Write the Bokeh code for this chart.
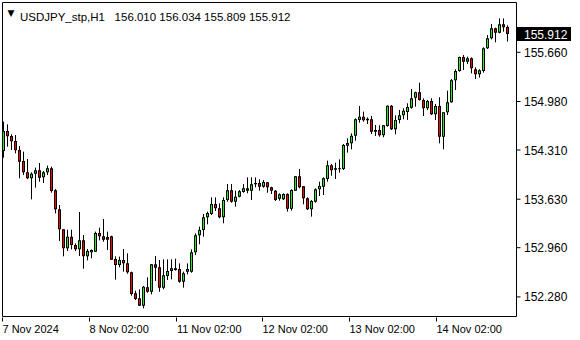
from bokeh.plotting import figure
from bokeh.models import Range1d, FixedTicker, Label, ColumnDataSource, LinearAxis
from bokeh.core.properties import value
from bokeh.embed import file_html
from bokeh.resources import INLINE

symbol = "USDJPY_stp,H1"

opens = [154.296, 154.573, 154.503, 154.434, 154.310, 154.158, 154.001, 153.919, 153.983, 154.029,
         153.932, 154.001, 154.057, 153.753, 153.490, 153.214, 152.951, 153.112, 152.997, 152.937,
         153.062, 152.841, 152.896, 152.905, 153.163, 153.117, 153.108, 153.117, 152.804, 152.721,
         152.790, 152.744, 152.620, 152.329, 152.260, 152.159, 152.412, 152.352, 152.730, 152.689,
         152.408, 152.569, 152.638, 152.675, 152.666, 152.491, 152.629, 152.629, 152.896, 153.131,
         153.205, 153.380, 153.426, 153.564, 153.504, 153.380, 153.619, 153.753, 153.596, 153.665,
         153.730, 153.780, 153.748, 153.836, 153.854, 153.803, 153.863, 153.794, 153.748, 153.638,
         153.628, 153.702, 153.499, 153.748, 153.946, 153.808, 153.642, 153.490, 153.596, 153.767,
         153.803, 153.909, 154.098, 154.057, 154.048, 154.048, 154.370, 154.402, 154.508, 154.725,
         154.771, 154.743, 154.734, 154.586, 154.586, 154.513, 154.642, 154.923, 154.596, 154.725,
         154.789, 154.835, 154.895, 155.033, 155.107, 155.001, 154.886, 154.987, 154.803, 154.918,
         154.494, 154.831, 154.969, 155.273, 155.402, 155.595, 155.531, 155.577, 155.425, 155.356,
         155.402, 155.715, 155.853, 155.991, 155.931, 156.046, 156.010]
highs = [154.702, 154.665, 154.526, 154.517, 154.365, 154.287, 154.186, 154.001, 154.066, 154.130,
         154.020, 154.094, 154.080, 153.771, 153.550, 153.214, 153.209, 153.209, 153.020, 153.453,
         153.135, 152.942, 152.937, 153.182, 153.237, 153.357, 153.182, 153.126, 152.841, 152.836,
         152.942, 152.882, 152.629, 152.366, 152.385, 152.431, 152.551, 152.735, 152.845, 152.790,
         152.799, 152.799, 152.799, 152.808, 152.744, 152.629, 152.744, 152.937, 153.158, 153.251,
         153.426, 153.458, 153.656, 153.656, 153.573, 153.656, 153.840, 153.840, 153.748, 153.757,
         153.840, 153.932, 153.932, 153.932, 153.905, 153.895, 153.868, 153.803, 153.757, 153.711,
         153.711, 153.711, 153.767, 153.950, 154.048, 153.812, 153.656, 153.619, 153.780, 153.872,
         153.932, 154.163, 154.117, 154.135, 154.181, 154.393, 154.471, 154.540, 154.748, 154.918,
         154.840, 154.761, 154.780, 154.656, 154.651, 154.656, 154.927, 154.932, 154.789, 154.863,
         154.886, 154.955, 155.153, 155.116, 155.240, 155.024, 155.001, 155.024, 154.946, 155.038,
         154.835, 155.130, 155.291, 155.425, 155.600, 155.623, 155.600, 155.590, 155.452, 155.425,
         155.729, 155.899, 156.051, 156.000, 156.129, 156.129, 156.034]
lows = [154.204, 154.356, 154.310, 154.264, 153.919, 153.965, 153.909, 153.628, 153.790, 153.872,
        153.854, 153.965, 153.720, 153.435, 153.053, 152.841, 152.914, 152.937, 152.914, 152.845,
        152.670, 152.785, 152.813, 152.905, 153.062, 153.043, 152.928, 152.795, 152.518, 152.689,
        152.629, 152.601, 152.297, 152.237, 152.154, 152.122, 152.339, 152.316, 152.500, 152.352,
        152.385, 152.514, 152.523, 152.643, 152.477, 152.408, 152.592, 152.615, 152.859, 153.007,
        153.112, 153.283, 153.412, 153.467, 153.366, 153.297, 153.596, 153.582, 153.527, 153.656,
        153.720, 153.711, 153.619, 153.794, 153.748, 153.789, 153.720, 153.702, 153.605, 153.610,
        153.619, 153.458, 153.472, 153.745, 153.780, 153.559, 153.481, 153.389, 153.582, 153.674,
        153.688, 153.872, 153.955, 153.909, 153.997, 154.034, 154.273, 154.319, 154.439, 154.688,
        154.702, 154.669, 154.531, 154.504, 154.494, 154.485, 154.632, 154.586, 154.527, 154.679,
        154.734, 154.725, 154.881, 154.909, 154.992, 154.780, 154.863, 154.794, 154.725, 154.402,
        154.319, 154.794, 154.964, 155.139, 155.392, 155.415, 155.498, 155.369, 155.291, 155.310,
        155.379, 155.706, 155.839, 155.798, 155.922, 155.945, 155.809]
closes = [154.573, 154.499, 154.430, 154.305, 154.149, 154.001, 153.919, 153.983, 154.029, 153.928,
          154.001, 154.057, 153.743, 153.490, 153.214, 152.951, 153.112, 152.997, 152.937, 153.062,
          152.841, 152.914, 152.928, 153.163, 153.117, 153.071, 153.071, 152.795, 152.721, 152.790,
          152.744, 152.620, 152.320, 152.251, 152.159, 152.422, 152.352, 152.730, 152.684, 152.408,
          152.578, 152.638, 152.675, 152.652, 152.491, 152.606, 152.666, 152.896, 153.131, 153.205,
          153.380, 153.439, 153.564, 153.504, 153.380, 153.619, 153.753, 153.596, 153.665, 153.739,
          153.780, 153.748, 153.836, 153.854, 153.803, 153.868, 153.794, 153.748, 153.619, 153.697,
          153.702, 153.499, 153.757, 153.946, 153.794, 153.642, 153.490, 153.605, 153.767, 153.813,
          153.919, 154.098, 154.029, 154.038, 154.057, 154.379, 154.407, 154.508, 154.734, 154.771,
          154.720, 154.720, 154.563, 154.563, 154.513, 154.651, 154.923, 154.596, 154.725, 154.789,
          154.854, 154.904, 155.024, 155.107, 155.001, 154.886, 154.987, 154.803, 154.918, 154.494,
          154.831, 154.969, 155.273, 155.402, 155.595, 155.531, 155.577, 155.438, 155.356, 155.411,
          155.715, 155.853, 155.991, 155.931, 156.046, 156.005, 155.912]

x_tick_bars = [0.75, 22.5, 44.25, 65.75, 87.5, 109.25]
x_tick_labels = ["7 Nov 2024", "8 Nov 02:00", "11 Nov 02:00", "12 Nov 02:00", "13 Nov 02:00", "14 Nov 02:00"]
y_ticks = [152.280, 152.960, 153.630, 154.310, 154.980, 155.660]

UP = "#20f020"
DOWN = "#ff0000"
FONT = "Liberation Sans"

# scale: 4 px per bar; price per px
PXX = 0.25
PXY = 0.013818
X0 = 0.5            # bar value at the frame's left edge (screen px 1)
Y1 = 156.362        # price at the frame's top edge (screen px 1)
FRAME_W, FRAME_H = 579, 316


def dx(px):
    return X0 + (px - 1) * PXX


def dy(py):
    return Y1 - (py - 1) * PXY


X1 = dx(1 + FRAME_W)
Y0 = dy(1 + FRAME_H)

bars = list(range(1, len(opens) + 1))
tops, bots, itops, ibots = [], [], [], []
for o, c in zip(opens, closes):
    t, b = max(o, c), min(o, c)
    if t - b < PXY:                       # flat body: draw at least one pixel
        m = (t + b) / 2
        t, b = m + PXY / 2, m - PXY / 2
    tops.append(t)
    bots.append(b)
    if t - b > 2 * PXY:
        itops.append(t - PXY)
        ibots.append(b + PXY)
    else:
        m = (t + b) / 2
        itops.append(m)
        ibots.append(m)

src = ColumnDataSource(dict(
    x=bars, high=highs, low=lows, top=tops, bottom=bots, itop=itops, ibot=ibots,
    color=[UP if c >= o else DOWN for o, c in zip(opens, closes)],
))

p = figure(frame_width=FRAME_W, frame_height=FRAME_H,
           x_range=Range1d(X0, X1), y_range=Range1d(Y0, Y1),
           y_axis_location=None, toolbar_location=None, output_backend="svg",
           min_border_left=1, min_border_top=1, min_border_right=0, min_border_bottom=23)
p.background_fill_color = "white"
p.border_fill_color = "white"
p.outline_line_color = None
p.xgrid.visible = False
p.ygrid.visible = False

# chart border
p.quad(left=[dx(2)], right=[dx(516)], top=[dy(2)], bottom=[dy(316)],
       fill_color=None, line_color="black", line_width=1)

# candles: wick, 3px black body, 1px coloured core
p.segment(x0="x", y0="low", x1="x", y1="high", source=src, line_color="black", line_width=1)
p.segment(x0="x", y0="bottom", x1="x", y1="top", source=src, line_color="black",
          line_width=3, line_cap="butt")
p.segment(x0="x", y0="ibot", x1="x", y1="itop", source=src, line_color="color",
          line_width=1, line_cap="butt")

# price scale
n = len(y_ticks)
p.segment(x0=[dx(516)] * n, x1=[dx(520)] * n, y0=y_ticks, y1=y_ticks,
          line_color="black", line_width=1)
p.text(x=[dx(523.5)] * n, y=y_ticks, text=[f"{v:.3f}" for v in y_ticks],
       text_align="left", text_baseline="middle", text_font=value(FONT),
       text_font_size="12px", text_color="#000000")

# last price box
last = closes[-1]
p.quad(left=[dx(516.5)], right=[dx(570.5)], top=[last + 7 * PXY], bottom=[last - 7 * PXY],
       fill_color="black", line_color=None)
p.text(x=[dx(523.5)], y=[last], text=[f"{last:.3f}"],
       text_align="left", text_baseline="middle", text_font=value(FONT),
       text_font_size="12px", text_color="white")

# time axis: ticks on the first axis, left-aligned labels on a second one
xax = p.xaxis[0]
xax.ticker = FixedTicker(ticks=x_tick_bars)
xax.major_label_overrides = {t: "" for t in x_tick_bars}
xax.major_label_text_font_size = "0px"
xax.major_label_standoff = 0
xax.axis_line_color = None
xax.major_tick_out = 4
xax.major_tick_in = 0
xax.minor_tick_line_color = None
xax.major_tick_line_color = "black"

# Arial/Liberation advance widths (em) to left-align the labels at their ticks
W = {" ": 0.278, ":": 0.278, "N": 0.722, "o": 0.556, "v": 0.5}
def text_w(s, size=11):
    return sum(W.get(ch, 0.556) for ch in s) * size

label_pos = [t + text_w(s) / 2 * PXX for t, s in zip(x_tick_bars, x_tick_labels)]
lab_axis = LinearAxis(ticker=FixedTicker(ticks=label_pos),
                      major_label_overrides={q: s for q, s in zip(label_pos, x_tick_labels)})
lab_axis.axis_line_color = None
lab_axis.major_tick_line_color = None
lab_axis.major_tick_out = 0
lab_axis.major_tick_in = 0
lab_axis.minor_tick_line_color = None
lab_axis.major_label_standoff = 1
lab_axis.major_label_text_font = FONT
lab_axis.major_label_text_font_size = "11px"
lab_axis.major_label_text_color = "#000000"
p.add_layout(lab_axis, "below")

# header
header = f"{symbol}\u00a0\u00a0\u00a0{opens[-1]:.3f} {highs[-1]:.3f} {lows[-1]:.3f} {closes[-1]:.3f}"
p.add_layout(Label(x=dx(19.5), y=dy(16.5), text=header, text_align="left",
                   text_baseline="alphabetic", text_font=FONT, text_font_size="11.5px",
                   text_color="#000000"))
p.add_layout(Label(x=dx(10.5), y=dy(12), text="\u25bc", text_align="center",
                   text_baseline="middle", text_font="DejaVu Sans", text_font_size="9px",
                   text_color="#000000"))

open("out.html", "w").write(file_html(p, INLINE))
